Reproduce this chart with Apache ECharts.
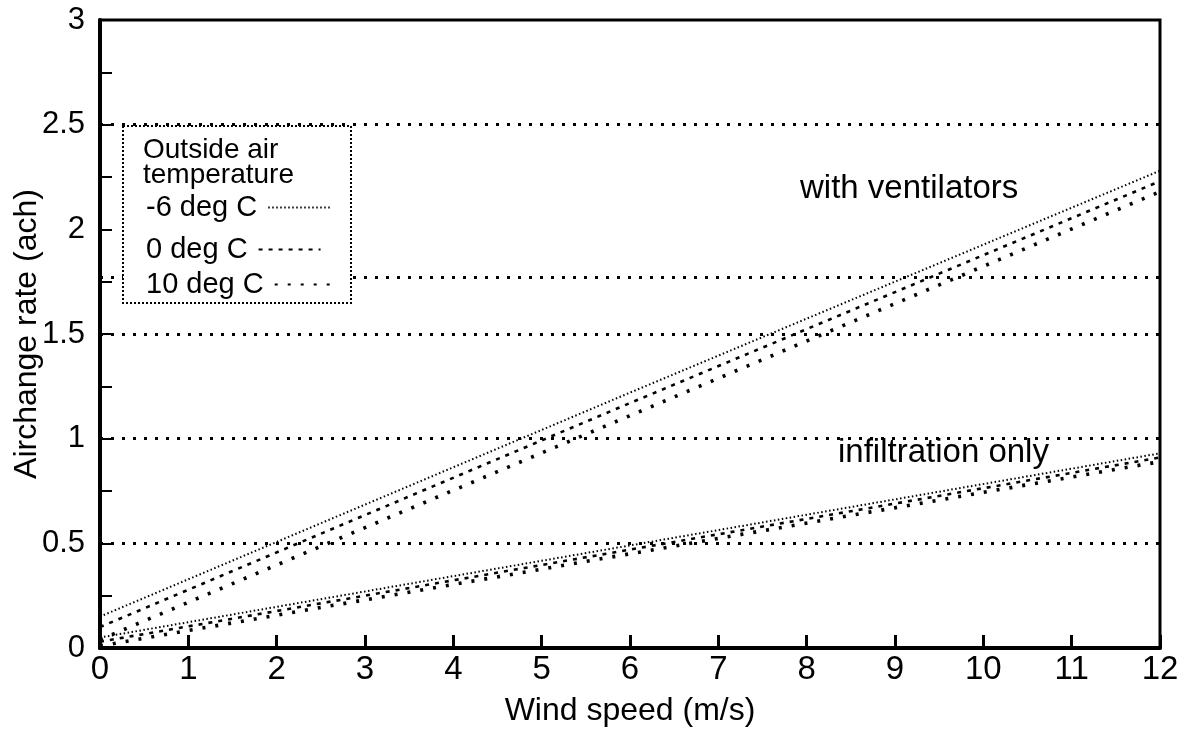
<!DOCTYPE html>
<html>
<head>
<meta charset="utf-8">
<script src="https://cdn.jsdelivr.net/npm/echarts@6/dist/echarts.min.js"></script>
<style>
html,body{margin:0;padding:0;background:#fff;}
#chart{width:1186px;height:741px;}
</style>
</head>
<body>
<div id="chart"></div>
<script>
// ---- data ----
var windSpeed = [0, 6, 12];
var ventMinus6 = [0.15, 1.22, 2.28];
var ventZero   = [0.10, 1.17, 2.23];
var ventTen    = [0.04, 1.11, 2.18];
var infMinus6  = [0.05, 0.49, 0.93];
var infZero    = [0.03, 0.47, 0.91];
var infTen     = [0.01, 0.45, 0.89];
var seriesNames = ['-6 deg C', '0 deg C', '10 deg C'];
var refLevels = [0.5, 1, 1.5, 1.77, 2.5];

var FONT = '"Liberation Sans", Arial, Helvetica, sans-serif';

function pairs(ys){ return windSpeed.map(function(x,i){ return [x, ys[i]]; }); }

var styles = [
  {width: 2, type: [1.5, 2.5]},
  {width: 2.6, type: [4, 6]},
  {width: 3.6, type: [3, 10]}
];

function mk(name, ys, st, extra){
  var s = {
    name: name, type: 'line', data: pairs(ys), symbol: 'none', silent: true,
    lineStyle: {color: '#000', width: st.width, type: st.type},
    itemStyle: {color: '#000'}, animation: false, z: 3
  };
  if (extra) for (var k in extra) s[k] = extra[k];
  return s;
}

var series = [
  mk(seriesNames[0], ventMinus6, styles[0], {
    markLine: {
      silent: true, symbol: 'none', animation: false, z: 2,
      label: {show: false},
      lineStyle: {color: '#000', width: 3, type: [3, 8]},
      data: refLevels.map(function(v){ return {yAxis: v}; })
    }
  }),
  mk(seriesNames[1], ventZero, styles[1]),
  mk(seriesNames[2], ventTen, styles[2]),
  mk(seriesNames[0], infMinus6, styles[0]),
  mk(seriesNames[1], infZero, styles[1]),
  mk(seriesNames[2], infTen, styles[2])
];

var legendTops = [188, 230, 265];
var legends = seriesNames.map(function(n, i){
  return {
    show: true, orient: 'vertical', left: 141, top: legendTops[i], z: 30,
    align: 'right', itemWidth: 62, itemHeight: 12,
    data: [n], selectedMode: false,
    itemStyle: {opacity: 0},
    textStyle: {fontSize: 29, fontFamily: FONT, color: '#000', padding: [0, 6, 0, 0]}
  };
});

var chart = echarts.init(document.getElementById('chart'));
chart.setOption({
  backgroundColor: '#fff',
  animation: false,
  textStyle: {fontFamily: FONT, color: '#000'},
  grid: {left: 100, right: 26, top: 20, bottom: 93, containLabel: false, outerBoundsMode: 'none',
         show: true, borderColor: '#000', borderWidth: 3, backgroundColor: 'transparent'},
  xAxis: {
    type: 'value', min: 0, max: 12, interval: 1,
    name: 'Wind speed (m/s)', nameLocation: 'middle', nameGap: 47, nameMoveOverlap: false,
    nameTextStyle: {fontSize: 32, fontFamily: FONT, color: '#000'},
    axisLine: {show: true, lineStyle: {color: '#000', width: 4}},
    axisTick: {show: true, inside: true, length: 13, lineStyle: {color: '#000', width: 3}},
    axisLabel: {fontSize: 33, fontFamily: FONT, color: '#000', margin: 5},
    splitLine: {show: false}
  },
  yAxis: {
    type: 'value', min: 0, max: 3, interval: 0.5,
    name: 'Airchange rate (ach)', nameLocation: 'middle', nameGap: 57, nameMoveOverlap: false,
    nameTextStyle: {fontSize: 32, fontFamily: FONT, color: '#000'},
    axisLine: {show: true, lineStyle: {color: '#000', width: 4}},
    axisTick: {show: true, inside: true, length: 12, lineStyle: {color: '#000', width: 2}},
    minorTick: {show: true, splitNumber: 2, length: 12, lineStyle: {color: '#000', width: 2}},
    axisLabel: {fontSize: 31, fontFamily: FONT, color: '#000', margin: 15},
    splitLine: {show: false}
  },
  legend: legends,
  graphic: [
    {type: 'rect', left: 122, top: 125, z: 20, shape: {width: 228, height: 177},
     style: {fill: '#fff', stroke: '#000', lineWidth: 2, lineDash: [2, 2]}},
    {type: 'text', left: 143, top: 136, z: 31,
     style: {text: 'Outside air\ntemperature', font: '28px ' + FONT, fill: '#000', lineHeight: 25}},
    {type: 'text', left: 800, top: 172, z: 11,
     style: {text: 'with ventilators', font: '33px ' + FONT, fill: '#000'}},
    {type: 'text', left: 838, top: 436, z: 11,
     style: {text: 'infiltration only', font: '33px ' + FONT, fill: '#000'}}
  ],
  series: series
});
</script>
</body>
</html>
